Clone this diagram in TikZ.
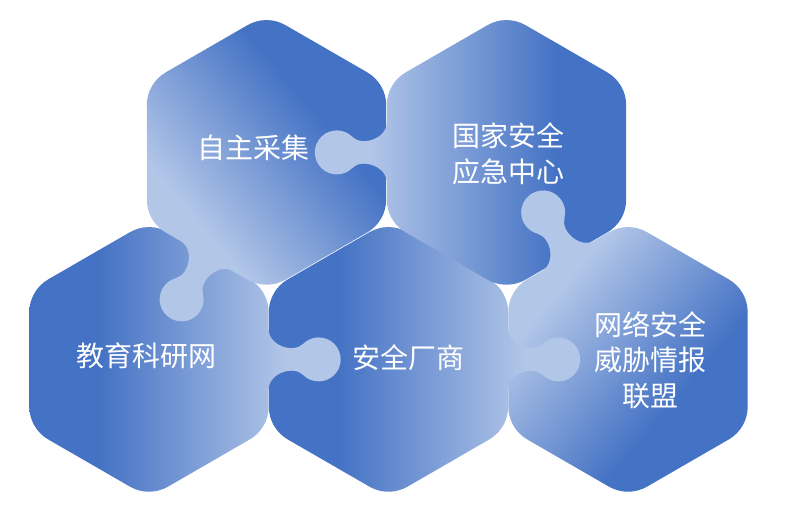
\documentclass[tikz,border=0pt]{standalone}
\usepackage{fontspec}
\newfontfamily\cjk{Noto Sans CJK SC}
\usetikzlibrary{calc}
\definecolor{tileDark}{RGB}{68,114,196}
\definecolor{tileLight}{RGB}{178,198,232}
\pgfdeclarehorizontalshading{tileFade}{100bp}{%
  color(0bp)=(tileLight); color(34bp)=(tileLight);
  color(64bp)=(tileDark); color(100bp)=(tileDark)}
\newcommand{\tileApothem}{119.7}
%% One hexagonal puzzle tile, its knob on the local right edge.
\newcommand{\tileOutline}{%%
  (\tileApothem,30) -- (\tileApothem,47.17)
  arc[start angle=0,end angle=60,radius=38] -- ++(150:94.34)
  arc[start angle=60,end angle=120,radius=38] -- ++(210:94.34)
  arc[start angle=120,end angle=180,radius=38] -- ++(270:94.34)
  arc[start angle=180,end angle=240,radius=38] -- ++(330:94.34)
  arc[start angle=240,end angle=300,radius=38] -- ++(30:94.34)
  arc[start angle=300,end angle=360,radius=38] -- (\tileApothem,-30)
  %% The knob.
  .. controls (\tileApothem,-14) and (\tileApothem+24.5,-5.66) .. (\tileApothem+34.44,-15.56)
  arc[start angle=-135,end angle=135,radius=22]
  .. controls (\tileApothem+24.5,5.66) and (\tileApothem,14) .. cycle
}
\newcommand{\puzzleTile}[3]{%%
  \begin{scope}[shift={(#1)},rotate=#2]
    \shade[tileStyle,shading angle=#3] \tileOutline;
  \end{scope}
}

\begin{document}
\begin{tikzpicture}[%%
  x=1pt,y=1pt,
  tileStyle/.style={shading=tileFade},%%
  labelStyle/.style={text=white,align=center,font=\cjk\fontsize{28}{35.5}\selectfont}
]
\useasboundingbox (0,0) rectangle (786,507);
%%
%% Tile centres.
\coordinate (collect) at (266.5,354.6);
\coordinate (emergency) at (506.5,354.6);
\coordinate (edu) at (149,147.6);
\coordinate (vendor) at (388.5,147.6);
\coordinate (alliance) at (628,147.6);
%%
%% The tiles, each knob lying over its neighbour.
\puzzleTile{vendor}{0}{180}
\puzzleTile{edu}{0}{180}
\puzzleTile{collect}{240}{40}
\puzzleTile{emergency}{180}{0}
\puzzleTile{alliance}{120}{-40}
%% The knob of the vendor tile over the alliance tile.
\begin{scope}
  \clip ($(vendor)+(\tileApothem,-45)$) rectangle ++(90,90);
  \puzzleTile{vendor}{0}{180}
\end{scope}
%%
%% Labels.
\node[labelStyle] (collectLabel) at (253.3,359.5) {自主采集};
\node[labelStyle] (emergencyLabel) at (508,353) {国家安全\\应急中心};
\node[labelStyle] (eduLabel) at (146.5,151) {教育科研网};
\node[labelStyle] (vendorLabel) at (408,149.5) {安全厂商};
\node[labelStyle] (allianceLabel) at (650,147) {网络安全\\威胁情报\\联盟};
\end{tikzpicture}
\end{document}
